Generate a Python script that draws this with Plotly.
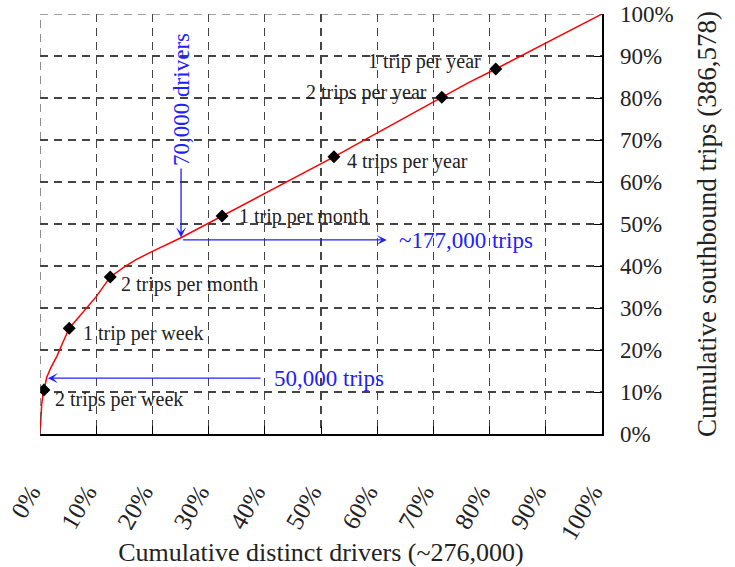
import plotly.graph_objects as go

# Cumulative curve (fraction of drivers vs fraction of trips)
curve_x = [0, 0.001, 0.003, 0.005, 0.007, 0.012, 0.02, 0.03, 0.041, 0.052, 0.07, 0.09, 0.1, 0.125,
           0.15, 0.171, 0.2, 0.249, 0.29, 0.324, 0.37, 0.42, 0.47, 0.523, 0.58, 0.64, 0.715,
           0.76, 0.811, 0.87, 0.93, 1.0]
curve_y = [0, 0.04, 0.07, 0.09, 0.105, 0.135, 0.16, 0.185, 0.219, 0.252, 0.28, 0.312, 0.327, 0.374,
           0.398, 0.415, 0.435, 0.466, 0.495, 0.519, 0.552, 0.587, 0.622, 0.66, 0.702, 0.746, 0.802,
           0.835, 0.869, 0.91, 0.952, 1.0]

# Frequency markers
marker_x = [0.007, 0.052, 0.125, 0.324, 0.523, 0.715, 0.811]
marker_y = [0.105, 0.252, 0.374, 0.519, 0.66, 0.802, 0.869]
marker_labels = ["2 trips per week", "1 trip per week", "2 trips per month", "1 trip per month",
                 "4 trips per year", "2 trips per year", "1 trip per year"]
label_x = [0.023, 0.073, 0.141, 0.351, 0.543, 0.692, 0.788]
label_y = [0.081, 0.24, 0.355, 0.517, 0.65, 0.814, 0.886]
label_anchor = ["left", "left", "left", "left", "left", "right", "right"]

tick_vals = [i / 10 for i in range(11)]
tick_text = [f"{i * 10}%" for i in range(11)]

FONT = "Liberation Serif"
BLUE = "#2020ff"
PAD = "\u00a0\u00a0\u00a0"  # trailing space so rotated labels end left of their tick

fig = go.Figure()
fig.add_trace(go.Scatter(x=curve_x, y=curve_y, mode="lines",
                         line=dict(color="#ff0000", width=1.5), hoverinfo="skip"))
fig.add_trace(go.Scatter(x=marker_x, y=marker_y, mode="markers",
                         marker=dict(symbol="diamond", size=10, color="black"), hoverinfo="skip"))

annotations = []
for t, lx, ly, anc in zip(marker_labels, label_x, label_y, label_anchor):
    annotations.append(dict(x=lx, y=ly, xref="x", yref="y", text=t, showarrow=False,
                            xanchor=anc, yanchor="middle",
                            font=dict(family=FONT, size=20, color="#222222")))

# 70,000 drivers vertical arrow
annotations.append(dict(x=0.251, y=0.468, ax=0.251, ay=0.636, xref="x", yref="y",
                        axref="x", ayref="y", text="", showarrow=True, arrowhead=3,
                        arrowsize=1.3, arrowwidth=1.3, arrowcolor=BLUE))
annotations.append(dict(x=0.252, y=0.797, xref="x", yref="y", text="70,000 drivers",
                        showarrow=False, textangle=-90, xanchor="center", yanchor="middle",
                        font=dict(family=FONT, size=23, color=BLUE)))
# ~177,000 trips horizontal arrow
annotations.append(dict(x=0.617, y=0.462, ax=0.252, ay=0.462, xref="x", yref="y",
                        axref="x", ayref="y", text="", showarrow=True, arrowhead=3,
                        arrowsize=1.3, arrowwidth=1.3, arrowcolor=BLUE))
annotations.append(dict(x=0.635, y=0.46, xref="x", yref="y", text="~177,000 trips",
                        showarrow=False, xanchor="left", yanchor="middle",
                        font=dict(family=FONT, size=23, color=BLUE)))
# 50,000 trips arrow
annotations.append(dict(x=0.014, y=0.133, ax=0.395, ay=0.133, xref="x", yref="y",
                        axref="x", ayref="y", text="", showarrow=True, arrowhead=3,
                        arrowsize=1.3, arrowwidth=1.3, arrowcolor=BLUE))
annotations.append(dict(x=0.413, y=0.131, xref="x", yref="y", text="50,000 trips",
                        showarrow=False, xanchor="left", yanchor="middle",
                        font=dict(family=FONT, size=23, color=BLUE)))

fig.update_layout(
    width=735, height=567,
    margin=dict(l=40, r=133, t=14, b=133),
    paper_bgcolor="white", plot_bgcolor="white",
    showlegend=False,
    font=dict(family=FONT, size=20, color="#222222"),
    annotations=annotations,
    xaxis=dict(range=[0, 1], tickvals=tick_vals, ticktext=[t + PAD for t in tick_text],
               tickangle=-60,
               showgrid=True, gridcolor="#444444", gridwidth=1.2, griddash="8px,6px",
               zeroline=False, showline=True, linecolor="black", linewidth=1.5,
               ticks="inside", ticklen=8, tickcolor="black", ticklabelstandoff=16,
               ticklabeloverflow="allow",
               automargin=False,
               title=dict(text="Cumulative distinct drivers (~276,000)",
                          font=dict(family=FONT, size=26), standoff=18),
               tickfont=dict(family=FONT, size=25)),
    yaxis=dict(range=[0, 1], tickvals=tick_vals, ticktext=tick_text, side="right",
               showgrid=True, gridcolor="#444444", gridwidth=1.2, griddash="8px,6px",
               zeroline=False, showline=True, linecolor="black", linewidth=1.5,
               ticks="inside", ticklen=8, tickcolor="black", ticklabelstandoff=12,
               ticklabeloverflow="allow",
               automargin=False,
               title=dict(text="Cumulative southbound trips (386,578)",
                          font=dict(family=FONT, size=27), standoff=24),
               tickfont=dict(family=FONT, size=23)),
)
# dashed left and top edges
fig.add_shape(type="line", x0=0, x1=0, y0=0, y1=1, xref="x", yref="y",
              line=dict(color="#444444", width=1.2, dash="8px,6px"))
fig.add_shape(type="line", x0=0, x1=1, y0=1, y1=1, xref="x", yref="y",
              line=dict(color="#444444", width=1.2, dash="8px,6px"))

fig.write_html("out.html", config={"displayModeBar": False, "staticPlot": True},
               post_script="document.body.style.margin='0';")
